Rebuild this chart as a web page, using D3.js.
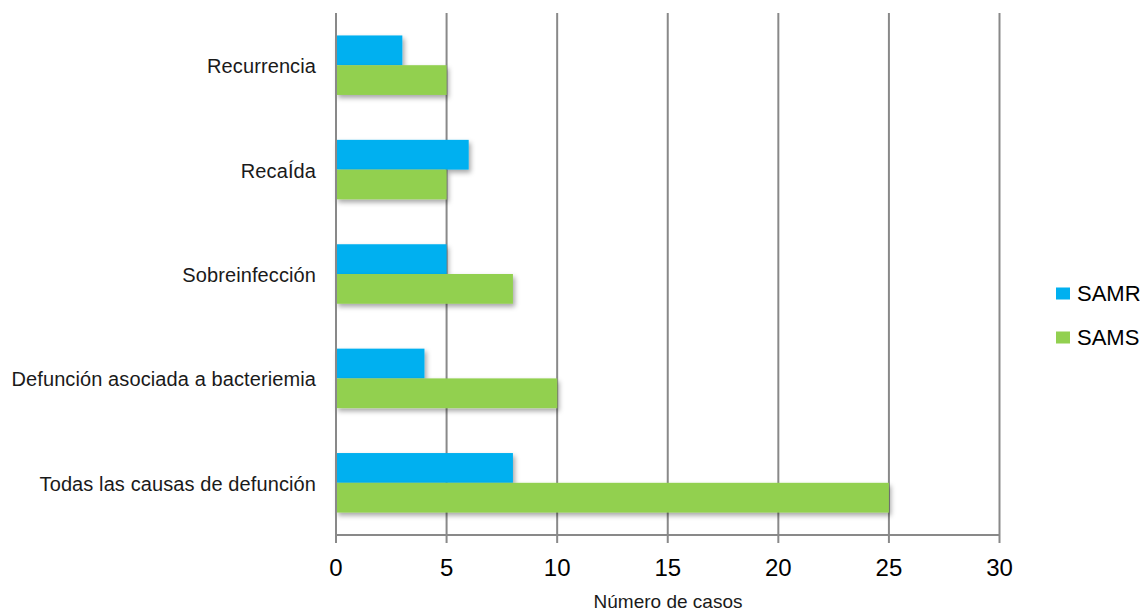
<!DOCTYPE html>
<html>
<head>
<meta charset="utf-8">
<script src="https://cdn.jsdelivr.net/npm/d3@7"></script>
<style>
  html, body { margin: 0; padding: 0; background: #fff; }
  svg { display: block; }
</style>
</head>
<body>
<svg id="chart" width="1148" height="611"></svg>
<script>
// Outcome categories, top to bottom
const categories = [
  "Recurrencia",
  "RecaÍda",
  "Sobreinfección",
  "Defunción asociada a bacteriemia",
  "Todas las causas de defunción"
];
const seriesNames = ["SAMR", "SAMS"];
const samrValues = [3, 6, 5, 4, 8];
const samsValues = [5, 5, 8, 10, 25];
const xTicks = [0, 5, 10, 15, 20, 25, 30];
const xTitle = "Número de casos";

const colors = { SAMR: "#00B0F0", SAMS: "#92D050" };
const rows = categories.map((c, i) => ({ category: c, SAMR: samrValues[i], SAMS: samsValues[i] }));

const svg = d3.select("#chart");
const plot = { left: 336, right: 999.5, top: 13, bottom: 535 };
const font = "Liberation Sans, Arial, sans-serif";

const x = d3.scaleLinear().domain([0, 30]).range([plot.left, plot.right]);
const y = d3.scaleBand().domain(categories).range([plot.top, plot.bottom]).paddingInner(0.43).paddingOuter(0.215);
const ySub = d3.scaleBand().domain(seriesNames).range([0, y.bandwidth()]);

// soft drop shadow under the bars
const defs = svg.append("defs");
const f = defs.append("filter").attr("id", "shadow").attr("x", "-10%").attr("y", "-30%").attr("width", "130%").attr("height", "170%");
f.append("feDropShadow").attr("dx", 2).attr("dy", 3).attr("stdDeviation", 2.5)
  .attr("flood-color", "#000").attr("flood-opacity", 0.35);

// vertical gridlines with tick stubs below the axis
const grid = svg.append("g");
grid.selectAll("line").data(xTicks).join("line")
  .attr("x1", d => x(d)).attr("x2", d => x(d))
  .attr("y1", plot.top).attr("y2", plot.bottom + 8)
  .attr("stroke", "#898989").attr("stroke-width", 2);

// bottom axis line
svg.append("line")
  .attr("x1", x(0)).attr("x2", x(30))
  .attr("y1", plot.bottom).attr("y2", plot.bottom)
  .attr("stroke", "#898989").attr("stroke-width", 2);

// tick labels
svg.append("g").selectAll("text").data(xTicks).join("text")
  .attr("x", d => x(d)).attr("y", 575.5)
  .attr("text-anchor", "middle")
  .attr("font-family", font)
  .attr("font-size", 24).attr("fill", "#000")
  .text(d => d);

// bars
const groups = svg.append("g").selectAll("g").data(rows).join("g")
  .attr("transform", d => `translate(0,${y(d.category)})`);
groups.selectAll("rect").data(d => seriesNames.map(s => ({ s, v: d[s] }))).join("rect")
  .attr("x", x(0))
  .attr("y", d => ySub(d.s))
  .attr("width", d => x(d.v) - x(0))
  .attr("height", ySub.bandwidth())
  .attr("fill", d => colors[d.s])
  .attr("filter", "url(#shadow)");

// redraw zero line over the bar edges
svg.append("line")
  .attr("x1", x(0)).attr("x2", x(0))
  .attr("y1", plot.top).attr("y2", plot.bottom + 8)
  .attr("stroke", "#898989").attr("stroke-width", 2);

// category labels
svg.append("g").selectAll("text").data(categories).join("text")
  .attr("x", 316)
  .attr("y", d => y(d) + y.bandwidth() / 2 + 8)
  .attr("text-anchor", "end")
  .attr("font-family", font)
  .attr("font-size", 20).attr("letter-spacing", 0.1).attr("fill", "#1a1a1a")
  .text(d => d);

// axis title
svg.append("text")
  .attr("x", 668).attr("y", 608)
  .attr("text-anchor", "middle")
  .attr("font-family", font)
  .attr("font-size", 19).attr("fill", "#1a1a1a")
  .text(xTitle);

// legend
const legend = svg.append("g").selectAll("g").data(seriesNames).join("g")
  .attr("transform", (d, i) => `translate(1056,${287.5 + i * 44})`);
legend.append("rect").attr("width", 14).attr("height", 12).attr("fill", d => colors[d]);
legend.append("text").attr("x", 21).attr("y", 13.3)
  .attr("font-family", font)
  .attr("font-size", 22).attr("fill", "#000")
  .text(d => d);
</script>
</body>
</html>
